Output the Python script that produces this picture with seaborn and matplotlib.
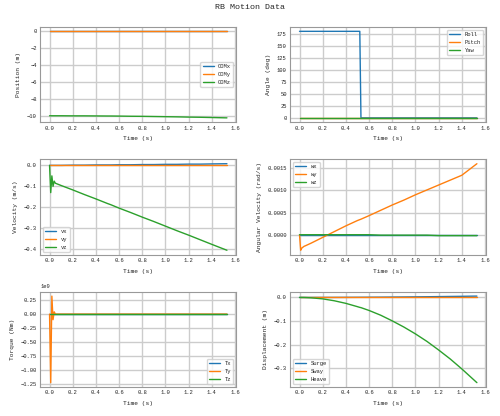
import matplotlib
matplotlib.use("Agg")
import matplotlib.pyplot as plt
import seaborn as sns

sns.set_theme(style="whitegrid", palette="tab10")
plt.rcParams['font.family'] = ['Liberation Mono', 'DejaVu Sans']
plt.rcParams['axes.edgecolor'] = '#999999'

t = [0.0, 0.01, 0.02, 0.03, 0.04, 0.05, 0.1, 0.2, 0.3, 0.4, 0.5, 0.52, 0.53, 0.6, 0.7, 0.8, 0.9, 1.0, 1.1, 1.2, 1.3, 1.4, 1.53]
comx = [0.0]*23
comy = [0.0]*23
comz = [-10.0, -10.0, -10.0, -10.0, -10.0, -10.0, -10.0, -10.01, -10.01, -10.02, -10.03, -10.03, -10.03, -10.04, -10.06, -10.07, -10.09, -10.11, -10.13, -10.16, -10.18, -10.21, -10.25]
roll = [180]*12 + [0]*11
pitch = [0.0]*23
yaw = [0.0]*23
vx = [0.0, 0.0, 0.0, 0.0, 0.0, 0.0, 0.0, 0.001, 0.001, 0.002, 0.002, 0.002, 0.002, 0.003, 0.003, 0.004, 0.004, 0.005, 0.005, 0.006, 0.006, 0.007, 0.008]
vy = [0.0]*23
vz = [0.0, -0.13, -0.05, -0.1, -0.075, -0.085, -0.096, -0.117, -0.139, -0.16, -0.182, -0.186, -0.188, -0.204, -0.225, -0.247, -0.268, -0.29, -0.312, -0.333, -0.355, -0.377, -0.405]
wx = [0.0]*23
wy = [0.0, -0.00035, -0.0003, -0.00028, -0.00026, -0.00025, -0.0002, -0.0001, 0.0, 0.0001, 0.0002, 0.00022, 0.00023, 0.0003, 0.0004, 0.0005, 0.0006, 0.0007, 0.0008, 0.0009, 0.00105, 0.00125, 0.0016]
wy = [0.0, -0.00035, -0.0003, -0.00028, -0.00026, -0.00025, -0.00019, -0.00006, 0.00007, 0.0002, 0.00032, 0.00034, 0.00035, 0.00043, 0.00055, 0.00067, 0.00078, 0.0009, 0.00101, 0.00112, 0.00123, 0.00134, 0.00148]
wy[-1] = 0.0016
wz = [0.0]*14 + [-0.00001]*5 + [-0.00002]*4
tx = [0.0]*23
ty = [0.0, -1.22e9, 0.32e9, -0.1e9, 0.04e9, 0.0] + [0.0]*17
tz = [0.0]*23
surge = [0.0, 0.0, 0.0, 0.0, 0.0, 0.0, 0.0, 0.0001, 0.0002, 0.0004, 0.0006, 0.0007, 0.0007, 0.0009, 0.0012, 0.0016, 0.0020, 0.0025, 0.003, 0.0036, 0.0042, 0.0048, 0.0057]
sway = [0.0]*23
heave = [0.0, 0.0, -0.0001, -0.0001, -0.0002, -0.0004, -0.0015, -0.006, -0.014, -0.025, -0.039, -0.042, -0.043, -0.055, -0.075, -0.099, -0.125, -0.154, -0.186, -0.222, -0.26, -0.302, -0.36]

panels = [
    ("Position (m)", [("COMx", comx), ("COMy", comy), ("COMz", comz)], "center right"),
    ("Angle (deg)", [("Roll", roll), ("Pitch", pitch), ("Yaw", yaw)], "upper right"),
    ("Velocity (m/s)", [("vx", vx), ("vy", vy), ("vz", vz)], "lower left"),
    ("Angular Velocity (rad/s)", [("wx", wx), ("wy", wy), ("wz", wz)], "upper left"),
    ("Torque (Nm)", [("Tx", tx), ("Ty", ty), ("Tz", tz)], "lower right"),
    ("Displacement (m)", [("Surge", surge), ("Sway", sway), ("Heave", heave)], "lower left"),
]

fig, axes = plt.subplots(3, 2, figsize=(5.0, 4.16), dpi=100)
fig.suptitle("RB Motion Data", fontsize=6, y=0.99)
for ax, (ylabel, series, loc) in zip(axes.flat, panels):
    for name, vals in series:
        sns.lineplot(x=t, y=vals, ax=ax, label=name, linewidth=1)
    ax.set_xlabel("Time (s)", fontsize=4.5)
    ax.set_ylabel(ylabel, fontsize=4.5)
    ax.tick_params(labelsize=4, length=1.5, pad=1)
    ax.yaxis.get_offset_text().set_fontsize(4)
    ax.set_xlim(-0.08, 1.61)
    ax.legend(loc=loc, fontsize=4, frameon=True)
    for s in ax.spines.values():
        s.set_linewidth(0.8)
fig.tight_layout(pad=0.6, h_pad=0.6, w_pad=1.0)
fig.savefig("out.png", dpi=100)
